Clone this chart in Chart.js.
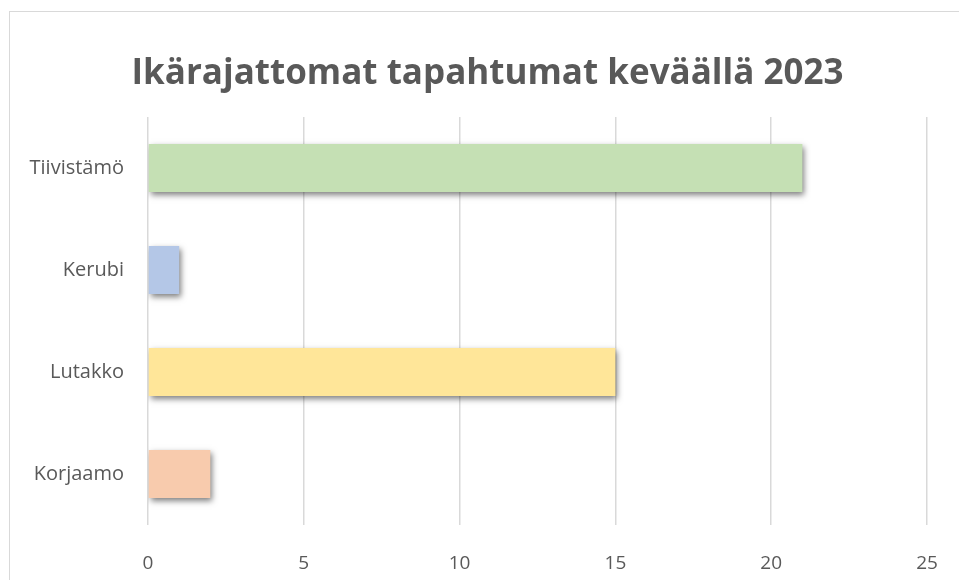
<!DOCTYPE html>
<html>
<head>
<meta charset="utf-8">
<script src="https://cdn.jsdelivr.net/npm/chart.js@4"></script>
<style>
  html, body { margin: 0; padding: 0; background: #fff; }
  #wrap { width: 959px; height: 580px; }
</style>
</head>
<body>
<div id="wrap"><canvas id="chart" width="959" height="580"></canvas></div>
<script>
const categories = ['Tiivistämö', 'Kerubi', 'Lutakko', 'Korjaamo'];
const values = [21, 1, 15, 2];
const barColors = ['#c5e0b4', '#b4c7e7', '#ffe699', '#f8cbad'];
const xTicks = [0, 5, 10, 15, 20, 25];

const textColor = '#595959';
const gridColor = '#d9d9d9';

// kehys kuvan ympärillä
const framePlugin = {
  id: 'frame',
  beforeDraw(chart) {
    const ctx = chart.ctx;
    ctx.save();
    ctx.fillStyle = '#fff';
    ctx.fillRect(0, 0, chart.width, chart.height);
    ctx.strokeStyle = '#d9d9d9';
    ctx.lineWidth = 1;
    ctx.strokeRect(9.5, 11.5, chart.width + 20, chart.height + 20);
    ctx.restore();
  }
};

// varjo palkkien alle
const shadowPlugin = {
  id: 'barShadow',
  beforeDatasetsDraw(chart) {
    const ctx = chart.ctx;
    ctx.save();
    ctx.shadowColor = 'rgba(0,0,0,0.5)';
    ctx.shadowBlur = 6;
    ctx.shadowOffsetX = 2;
    ctx.shadowOffsetY = 3;
  },
  afterDatasetsDraw(chart) {
    chart.ctx.restore();
  }
};

new Chart(document.getElementById('chart'), {
  type: 'bar',
  data: {
    labels: categories,
    datasets: [{
      data: values,
      backgroundColor: barColors,
      borderWidth: 0,
      barPercentage: 0.47,
      categoryPercentage: 1
    }]
  },
  options: {
    indexAxis: 'y',
    responsive: false,
    animation: false,
    layout: { padding: { left: 16, right: 0, top: 0, bottom: 0 } },
    plugins: {
      legend: { display: false },
      tooltip: { enabled: false },
      title: {
        display: true,
        text: 'Ikärajattomat tapahtumat keväällä 2023',
        color: textColor,
        font: { family: 'Open Sans', size: 35, weight: 'bold' },
        padding: { top: 53, bottom: 22 }
      }
    },
    scales: {
      x: {
        min: 0,
        max: 25,
        afterBuildTicks(scale) {
          scale.ticks = xTicks.map(v => ({ value: v }));
        },
        afterFit(scale) {
          scale.height = 55;
          scale.paddingLeft = 0;
          scale.paddingRight = 32;
        },
        grid: { color: gridColor, lineWidth: 1.5, drawTicks: false },
        border: { display: false },
        ticks: {
          color: textColor,
          padding: 27,
          font: { family: 'Open Sans', size: 19 }
        }
      },
      y: {
        afterFit(scale) { scale.width = 132; },
        grid: { display: false, drawTicks: false },
        border: { display: false },
        ticks: {
          color: textColor,
          padding: 24,
          font: { family: 'Open Sans', size: 20 }
        }
      }
    }
  },
  plugins: [framePlugin, shadowPlugin]
});
</script>
</body>
</html>
